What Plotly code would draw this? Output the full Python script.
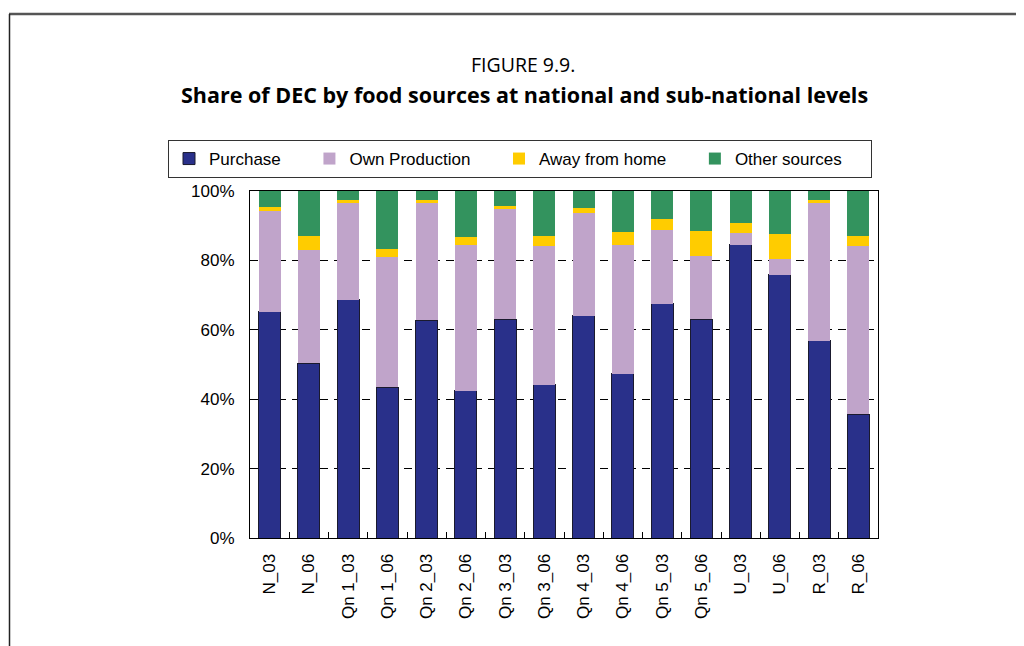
import plotly.graph_objects as go

categories = ["N_03", "N_06", "Qn 1_03", "Qn 1_06", "Qn 2_03", "Qn 2_06", "Qn 3_03", "Qn 3_06",
              "Qn 4_03", "Qn 4_06", "Qn 5_03", "Qn 5_06", "U_03", "U_06", "R_03", "R_06"]

purchase = [65.2, 50.4, 68.6, 43.4, 62.7, 42.5, 63.1, 44.1, 64.0, 47.3, 67.5, 63.1, 84.5, 75.8, 56.8, 35.7]
own_production = [28.9, 32.7, 28.0, 37.6, 33.9, 42.0, 31.7, 40.1, 29.7, 37.2, 21.3, 18.2, 3.5, 4.7, 39.8, 48.5]
away_from_home = [1.4, 4.0, 0.7, 2.3, 0.7, 2.3, 1.0, 2.8, 1.5, 3.8, 3.2, 7.2, 2.9, 7.2, 0.7, 2.9]
other_sources = [4.5, 12.9, 2.7, 16.7, 2.7, 13.2, 4.2, 13.0, 4.8, 11.7, 8.0, 11.5, 9.1, 12.3, 2.7, 12.9]

y_ticks = [0, 20, 40, 60, 80, 100]
y_labels = ["0%", "20%", "40%", "60%", "80%", "100%"]

# page has an 8px body margin, so work in screen coords and shift
OFF = 8
W, H = 1024 - OFF, 646 - OFF
L, T = 250 - OFF, 191 - OFF
R, B = W - (878 - OFF), H - (538 - OFF)
pw, ph = W - L - R, H - T - B


def px_x(x):
    return (x - OFF - L) / pw


def px_y(y):
    return (H - B - (y - OFF)) / ph


pad = "\u00a0" * 5
series = [
    ("Purchase", purchase, "#29308A", dict(color="#1a1a2e", width=1)),
    ("Own Production", own_production, "#C0A4CA", dict(width=0)),
    ("Away from home", away_from_home, "#FFCC00", dict(width=0)),
    ("Other sources", other_sources, "#33935E", dict(width=0)),
]

fig = go.Figure()
for name, vals, color, line in series:
    fig.add_trace(go.Bar(x=categories, y=vals, name=name + pad,
                         marker=dict(color=color, line=line)))

font = "Liberation Sans, Arial, sans-serif"

fig.update_layout(
    width=W, height=H,
    barmode="stack", bargap=0.44,
    plot_bgcolor="white", paper_bgcolor="white",
    margin=dict(l=L, r=R, t=T, b=B),
    font=dict(family=font, size=17, color="black"),
    showlegend=True,
    legend=dict(orientation="h", x=px_x(168), y=px_y(140), xanchor="left", yanchor="top",
                bordercolor="#333", borderwidth=1, font=dict(size=17), traceorder="normal",
                itemclick=False),
    annotations=[
        dict(text="FIGURE 9.9.", xref="paper", yref="paper", x=px_x(523), y=px_y(64),
             xanchor="center", yanchor="middle",
             showarrow=False, font=dict(family="Open Sans", size=19.5)),
        dict(text="<b>Share of DEC by food sources at national and sub-national levels</b>",
             xref="paper", yref="paper", x=px_x(524), y=px_y(94),
             xanchor="center", yanchor="middle", showarrow=False,
             font=dict(family="Open Sans", size=21.5)),
    ],
    shapes=[
        dict(type="line", xref="paper", yref="paper", x0=px_x(9), x1=px_x(1040),
             y0=px_y(14), y1=px_y(14), line=dict(color="#555", width=2.5)),
        dict(type="line", xref="paper", yref="paper", x0=px_x(9.5), x1=px_x(9.5),
             y0=px_y(14), y1=px_y(660), line=dict(color="#222", width=1.5)),
    ],
)

fig.update_xaxes(
    tickangle=-90, ticks="inside", tickson="boundaries", ticklen=6, tickcolor="black",
    showline=True, linecolor="black", linewidth=1, mirror=True,
    showgrid=False, ticklabelstandoff=8,
)
fig.update_yaxes(
    range=[0, 100], tickvals=y_ticks, ticktext=y_labels,
    ticks="inside", ticklen=8, tickcolor="black",
    showline=True, linecolor="black", linewidth=1, mirror=True,
    showgrid=True, gridcolor="black", gridwidth=1, griddash="8px,6px",
    zeroline=False, ticklabelstandoff=11,
)

fig.write_html("out.html")
